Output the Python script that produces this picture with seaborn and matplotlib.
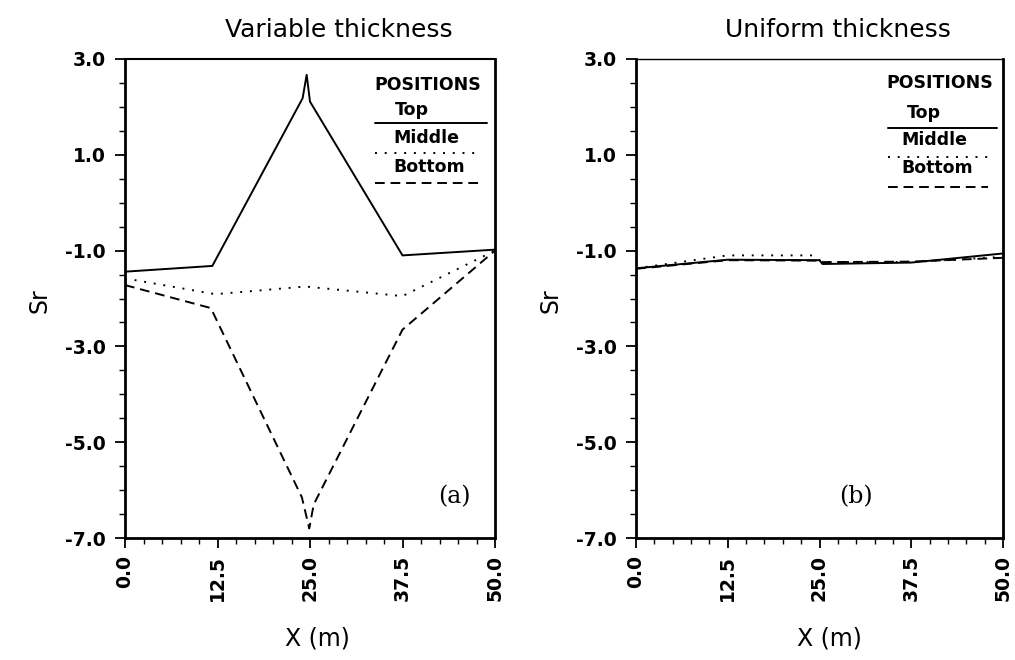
import matplotlib
matplotlib.use("Agg")
import matplotlib.pyplot as plt
from matplotlib.ticker import MultipleLocator, FormatStrFormatter
import seaborn as sns
import pandas as pd

# ---------------- data ----------------
# (a) Variable thickness
a_top_x = [0.0, 11.8, 24.0, 24.55, 25.0, 37.5, 50.0]
a_top_y = [-1.44, -1.32, 2.18, 2.67, 2.11, -1.10, -0.98]
a_mid_x = [0.0, 12.2, 24.4, 37.5, 50.0]
a_mid_y = [-1.58, -1.91, -1.75, -1.95, -1.00]
a_bot_x = [0.0, 11.6, 23.9, 24.9, 25.5, 37.5, 50.0]
a_bot_y = [-1.72, -2.20, -6.15, -6.80, -6.30, -2.65, -1.00]

# (b) Uniform thickness
b_top_x = [0.0, 12.5, 25.0, 25.4, 37.5, 50.0]
b_top_y = [-1.37, -1.19, -1.20, -1.28, -1.25, -1.06]
b_mid_x = [0.0, 12.5, 24.0, 25.0, 25.5, 37.5, 50.0]
b_mid_y = [-1.37, -1.10, -1.10, -1.20, -1.24, -1.24, -1.13]
b_bot_x = [0.0, 12.5, 25.0, 25.5, 37.5, 50.0]
b_bot_y = [-1.38, -1.20, -1.21, -1.24, -1.23, -1.15]

x_ticks = [0.0, 12.5, 25.0, 37.5, 50.0]
y_ticks = [3.0, 1.0, -1.0, -3.0, -5.0, -7.0]
titles = ["Variable thickness", "Uniform thickness"]
panel_tags = ["(a)", "(b)"]
legend_title = "POSITIONS"
legend_labels = ["Top", "Middle", "Bottom"]

# ---------------- style ----------------
sns.set_theme(style="white")
plt.rcParams['font.family'] = ['DejaVu Sans']
plt.rcParams['axes.unicode_minus'] = False

styles = ["-", (0, (1, 4)), (0, (5, 3))]

fig = plt.figure(figsize=(10.15, 6.60), dpi=100)
ax_a = fig.add_axes([125 / 1015, 122 / 660, 370 / 1015, 479 / 660])
ax_b = fig.add_axes([636 / 1015, 122 / 660, 367 / 1015, 479 / 660])

data_sets = [
    [(a_top_x, a_top_y), (a_mid_x, a_mid_y), (a_bot_x, a_bot_y)],
    [(b_top_x, b_top_y), (b_mid_x, b_mid_y), (b_bot_x, b_bot_y)],
]

legend_pos = [
    dict(title=(0.819, 0.946), labels=[(0.73, 0.894), (0.724, 0.835), (0.724, 0.775)],
         lines=[(0.866, 0.676, 0.978), (0.804, 0.676, 0.959), (0.741, 0.676, 0.959)]),
    dict(title=(0.828, 0.950), labels=[(0.738, 0.887), (0.724, 0.831), (0.724, 0.772)],
         lines=[(0.856, 0.687, 0.984), (0.795, 0.687, 0.965), (0.733, 0.687, 0.959)]),
]
tag_pos = [(0.89, 0.086), (0.60, 0.086)]

for i, (ax, sets) in enumerate(zip([ax_a, ax_b], data_sets)):
    for (xs, ys), ls, lab in zip(sets, styles, legend_labels):
        df = pd.DataFrame({"X": xs, "Sr": ys})
        sns.lineplot(data=df, x="X", y="Sr", ax=ax, color="black", linewidth=1.4,
                     linestyle=ls, sort=False, estimator=None)
    ax.set_xlim(0, 50)
    ax.set_ylim(-7, 3)
    ax.set_xticks(x_ticks)
    ax.set_yticks(y_ticks)
    ax.xaxis.set_minor_locator(MultipleLocator(2.5))
    ax.yaxis.set_minor_locator(MultipleLocator(0.5))
    ax.xaxis.set_major_formatter(FormatStrFormatter("%.1f"))
    ax.yaxis.set_major_formatter(FormatStrFormatter("%.1f"))
    ax.tick_params(axis="both", which="major", direction="out", length=7, width=1.3,
                   color="black", labelsize=13.5, labelcolor="black", bottom=True, left=True)
    ax.tick_params(axis="both", which="minor", direction="out", length=4, width=1.0,
                   color="black", bottom=True, left=True)
    ax.tick_params(axis="x", which="major", labelrotation=90, pad=5)
    ax.tick_params(axis="y", which="major", pad=7)
    for lbl in ax.get_xticklabels() + ax.get_yticklabels():
        lbl.set_fontweight("bold")
    for sp in ax.spines.values():
        sp.set_visible(True)
        sp.set_color("black")
        sp.set_linewidth(2.0)
    ax.spines["top"].set_linewidth(1.5 if i == 0 else 1.0)
    ax.set_xlabel("")
    ax.set_ylabel("")

    # custom legend
    lp = legend_pos[i]
    ax.text(*lp["title"], legend_title, transform=ax.transAxes, ha="center", va="center",
            fontsize=12.5, fontweight="bold", color="black")
    for (tx, ty), lab in zip(lp["labels"], legend_labels):
        ax.text(tx, ty, lab, transform=ax.transAxes, ha="left", va="center",
                fontsize=12.5, fontweight="bold", color="black")
    for (ly, lx0, lx1), ls in zip(lp["lines"], styles):
        ax.plot([lx0, lx1], [ly, ly], transform=ax.transAxes, color="black",
                linewidth=1.4, linestyle=ls, clip_on=False)
    ax.text(*tag_pos[i], panel_tags[i], transform=ax.transAxes, ha="center", va="center",
            fontsize=17, family="DejaVu Serif", color="black")

# titles & axis labels
fig.text(0.334, 0.955, titles[0], ha="center", va="center", fontsize=18, color="black")
fig.text(0.826, 0.955, titles[1], ha="center", va="center", fontsize=18, color="black")
fig.text(0.039, 0.545, "Sr", ha="center", va="center", rotation=90, fontsize=17, color="black")
fig.text(0.542, 0.545, "Sr", ha="center", va="center", rotation=90, fontsize=17, color="black")
fig.text(0.313, 0.033, "X (m)", ha="center", va="center", fontsize=17, color="black")
fig.text(0.817, 0.033, "X (m)", ha="center", va="center", fontsize=17, color="black")

fig.savefig("out.png", dpi=100, facecolor="white")
